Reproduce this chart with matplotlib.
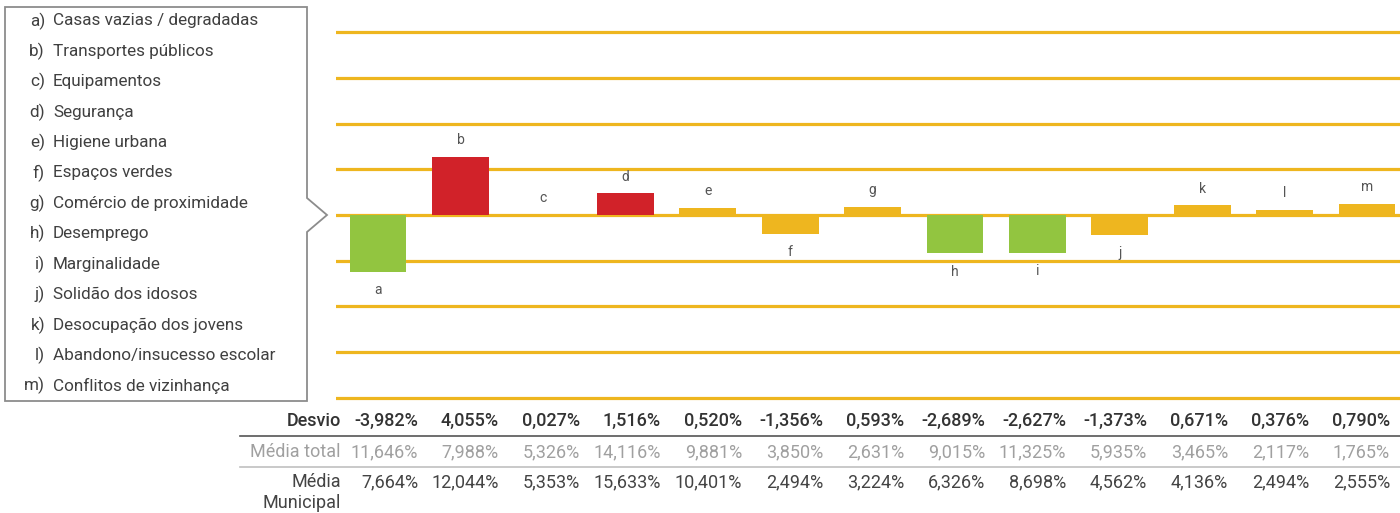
import numpy as np
import matplotlib.pyplot as plt
from matplotlib.patches import Polygon

plt.rcParams["font.family"] = ["Roboto", "DejaVu Sans"]

letters = ["a", "b", "c", "d", "e", "f", "g", "h", "i", "j", "k", "l", "m"]
names = [
    "Casas vazias / degradadas", "Transportes públicos", "Equipamentos",
    "Segurança", "Higiene urbana", "Espaços verdes", "Comércio de proximidade",
    "Desemprego", "Marginalidade", "Solidão dos idosos",
    "Desocupação dos jovens", "Abandono/insucesso escolar",
    "Conflitos de vizinhança",
]
desvio = [-3.982, 4.055, 0.027, 1.516, 0.520, -1.356, 0.593,
          -2.689, -2.627, -1.373, 0.671, 0.376, 0.790]
media_total = [11.646, 7.988, 5.326, 14.116, 9.881, 3.850, 2.631,
               9.015, 11.325, 5.935, 3.465, 2.117, 1.765]
media_municipal = [7.664, 12.044, 5.353, 15.633, 10.401, 2.494, 3.224,
                   6.326, 8.698, 4.562, 4.136, 2.494, 2.555]
# cor de cada barra
bar_colors = ["green", "red", "gold", "red", "gold", "gold", "gold",
              "green", "green", "gold", "gold", "gold", "gold"]

palette = {"green": "#92c540", "red": "#d12229", "gold": "#eeb61f"}
GOLD = "#eeb61f"


def pct(v):
    return f"{v:.3f}%".replace(".", ",")


W, H = 1400, 513
fig = plt.figure(figsize=(W / 100, H / 100), dpi=100)

# overlay em pixeis para caixa e tabela
ov = fig.add_axes([0, 0, 1, 1])
ov.set_xlim(0, W)
ov.set_ylim(H, 0)
ov.axis("off")

ax = fig.add_axes([336 / W, 1 - 402 / H, (W - 336) / W, (402 - 28) / H])
x = np.arange(len(letters))
ax.bar(x, desvio, width=0.69, color=[palette[c] for c in bar_colors], zorder=3)
for g in np.arange(-4, 5) * 3.2:
    ax.axhline(g, color=GOLD, lw=2.3, zorder=1)
for xi, v, lt in zip(x, desvio, letters):
    if v >= 0:
        ax.annotate(lt, (xi, v), xytext=(0, 7), textcoords="offset points",
                    ha="center", va="bottom", fontsize=10, color="#555555")
    else:
        ax.annotate(lt, (xi, v), xytext=(0, -8), textcoords="offset points",
                    ha="center", va="top", fontsize=10, color="#555555")
ax.set_xlim(-0.51, 12.4)
ax.set_ylim(-13.08, 13.08)
ax.axis("off")

# caixa da legenda com seta
box = Polygon([(5, 7), (307, 7), (307, 198), (327, 215), (307, 232),
               (307, 401), (5, 401)], closed=True, fc="white",
              ec="#8c8c8c", lw=1.3)
ov.add_patch(box)
for i, (lt, nm) in enumerate(zip(letters, names)):
    y = 21 + i * 30.4
    ov.text(45, y, lt + ")", ha="right", va="center", fontsize=12.3,
            color="#404040")
    ov.text(53, y, nm, ha="left", va="center", fontsize=12.3, color="#404040")

# tabela (colunas alinhadas a direita)
col_right = 418 + 81 * x
rows = [(desvio, 421, "#333333", "medium"),
        (media_total, 452, "#a0a0a0", "normal"),
        (media_municipal, 482, "#444444", "normal")]
for vals, y, col, wt in rows:
    for cx, v in zip(col_right, vals):
        ov.text(cx, y, pct(v), ha="right", va="center", fontsize=13,
                color=col, fontweight=wt)
ov.text(341, 421, "Desvio", ha="right", va="center", fontsize=13,
        color="#333333", fontweight="medium")
ov.text(341, 452, "Média total", ha="right", va="center", fontsize=13,
        color="#a0a0a0")
ov.text(341, 482, "Média", ha="right", va="center", fontsize=13,
        color="#444444")
ov.text(341, 503, "Municipal", ha="right", va="center", fontsize=13,
        color="#444444")
ov.plot([240, W], [436, 436], color="#555555", lw=1.2)
ov.plot([240, W], [467, 467], color="#c0c0c0", lw=1.2)

fig.savefig("out.png", dpi=100)
